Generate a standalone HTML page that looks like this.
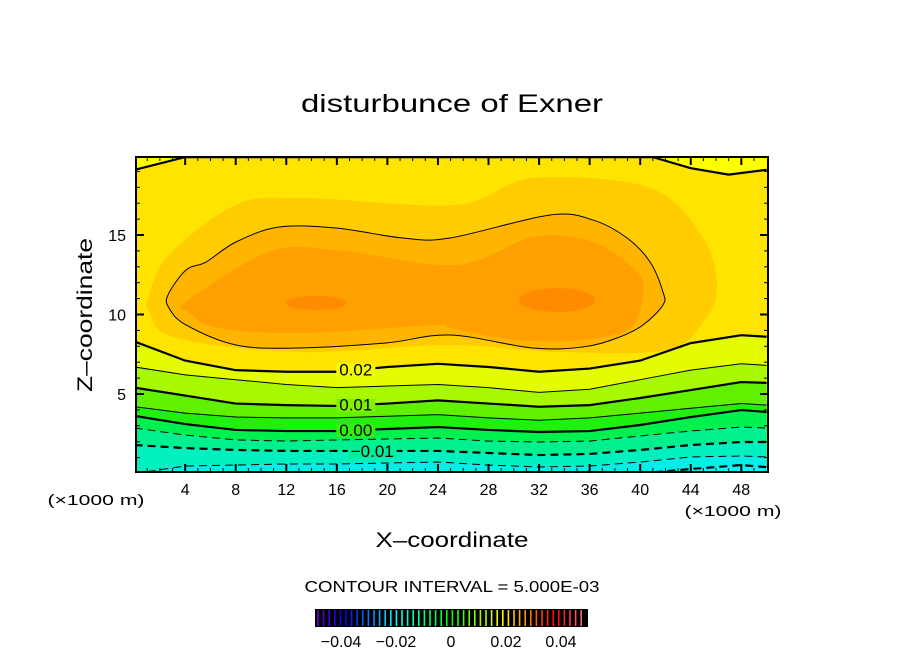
<!DOCTYPE html>
<html><head><meta charset="utf-8"><style>
html,body{margin:0;padding:0;background:#fff;}
svg{display:block;font-family:"Liberation Sans",sans-serif;}
</style></head><body>
<svg id="chart" width="904" height="654" viewBox="0 0 904 654">
<text x="452" y="112" text-anchor="middle" font-size="25" textLength="302" lengthAdjust="spacingAndGlyphs">disturbunce of Exner</text>
<defs><clipPath id="pc"><rect x="136" y="157" width="632" height="315"/></clipPath></defs>
<g id="plot" clip-path="url(#pc)"></g>
<rect x="136" y="157" width="632" height="315" fill="none" stroke="#000" stroke-width="2"/>
<g id="axes"></g>
<text x="96" y="505" text-anchor="middle" font-size="15" textLength="97" lengthAdjust="spacingAndGlyphs">(×1000 m)</text>
<text x="733" y="516" text-anchor="middle" font-size="15" textLength="97" lengthAdjust="spacingAndGlyphs">(×1000 m)</text>
<text x="452" y="547" text-anchor="middle" font-size="21" textLength="153" lengthAdjust="spacingAndGlyphs">X–coordinate</text>
<text x="0" y="0" transform="translate(92,315) rotate(-90)" text-anchor="middle" font-size="21" textLength="154" lengthAdjust="spacingAndGlyphs">Z–coordinate</text>
<text x="452" y="592" text-anchor="middle" font-size="16" textLength="295" lengthAdjust="spacingAndGlyphs">CONTOUR INTERVAL = 5.000E-03</text>
<g id="cbar"></g>
</svg>
<script>
// ---- data ----
const xs = [0,4,8,12,16,20,24,28,32,36,40,44,48,50];
const levels = [-0.02,-0.015,-0.01,-0.005,0.0,0.005,0.01,0.015,0.02];
const zLm020 = [0,0,0,0,0,0,0,0,0,0,0,0.28,0.53,0.4];
const zLm015 = [0,0.47,0.53,0.6,0.6,0.66,0.72,0.53,0.41,0.47,0.72,1.04,1.1,1.04];
const zLm010 = [1.79,1.6,1.48,1.42,1.42,1.42,1.42,1.29,1.16,1.23,1.48,1.79,1.98,1.98];
const zLm005 = [2.86,2.42,2.11,2.04,2.11,2.17,2.23,2.04,1.98,2.04,2.36,2.67,2.92,2.86];
const zL000 = [3.62,3.11,2.74,2.67,2.67,2.8,2.92,2.74,2.61,2.67,3.05,3.55,3.99,3.87];
const zL005 = [4.2,3.8,3.55,3.5,3.5,3.6,3.7,3.5,3.35,3.5,3.8,4.1,4.4,4.3];
const zL010 = [5.4,4.9,4.4,4.3,4.25,4.4,4.6,4.4,4.2,4.3,4.75,5.25,5.75,5.7];
const zL015 = [6.7,6.2,5.9,5.6,5.4,5.5,5.6,5.4,5.1,5.3,5.9,6.5,6.9,6.8];
const zL020 = [8.3,7.1,6.5,6.4,6.4,6.7,6.9,6.7,6.4,6.6,7.1,8.2,8.7,8.6];
const topX = [0,4,41,44,47,50];
const topZ = [19.1,19.9,19.9,19.2,18.8,19.1];
const loopX = [2.64,4.07,5.65,8.02,11.42,15.93,21.23,24.95,32.86,36.27,38.96,40.78,41.8,41.8,40.22,38.17,35.47,31.52,24.95,19.89,12.77,8.02,4.07,2.72];
const loopZ = [11.23,12.8,13.3,14.56,15.5,15.44,14.81,14.81,16.26,15.94,14.81,13.3,11.42,10.6,9.34,8.52,7.96,7.89,8.71,8.21,7.89,8.08,9.34,10.41];
const outerX = [1.14,2.72,8.02,13.32,25.43,31.52,40.78,44.97,46.08,44.97,42.12,33.65,24.95,13.09,3.28,1.14];
const outerZ = [11.23,13.74,16.89,17.33,16.89,18.58,17.96,14.81,11.67,9.53,7.77,7.64,8.08,7.64,8.52,10.16];
const innerX = [4.07,10.63,15.93,25.43,31.52,36.27,39.75,40.22,39.19,35.47,30.25,24.95,23.84,13.32,6.68,4.3];
const innerZ = [10.79,13.93,14.06,13.11,14.87,14.56,12.67,11.23,9.15,8.4,8.4,9.15,9.34,8.84,9.15,10.16];
const coreX = [14.36,33.42];
const coreZ = [10.72,10.91];
const coreRx = [2.4,3.0];
const coreRz = [0.44,0.75];
const xTicks = [4,8,12,16,20,24,28,32,36,40,44,48];
const zTicks = [5,10,15];
const cbTicks = [-0.04,-0.02,0,0.02,0.04];
const cbTickLabels = ["−0.04","−0.02","0","0.02","0.04"];

// ---- scales ----
const X = x => 134.6 + 12.64*x;
const Y = z => 473.5 - 15.9*z;
const NS='http://www.w3.org/2000/svg';
const plot=document.getElementById('plot'), axes=document.getElementById('axes'), cbar=document.getElementById('cbar');
function mk(tag, attrs, parent){const e=document.createElementNS(NS,tag);for(const k in attrs)e.setAttribute(k,attrs[k]);parent.appendChild(e);return e;}
function closedSmooth(px,pz){
  const n=px.length, P=px.map((x,i)=>[X(x),Y(pz[i])]);
  let d='M'+P[0][0]+','+P[0][1];
  for(let i=0;i<n;i++){
    const p0=P[(i-1+n)%n],p1=P[i],p2=P[(i+1)%n],p3=P[(i+2)%n];
    const c1=[p1[0]+(p2[0]-p0[0])/6,p1[1]+(p2[1]-p0[1])/6];
    const c2=[p2[0]-(p3[0]-p1[0])/6,p2[1]-(p3[1]-p1[1])/6];
    d+=' C'+c1+' '+c2+' '+p2;
  }
  return d+'Z';
}
function linePath(zArr){return xs.map((x,i)=>(i?'L':'M')+X(x)+','+Y(zArr[i])).join(' ');}

let e=mk('rect',{x:130,y:150,width:650,height:330,fill:'#ffe400'},plot);
 
e=mk('path',{d:'M'+X(0)+','+Y(21)+' '+topX.map((x,i)=>'L'+X(x)+','+Y(topZ[i])).join(' ')+' L'+X(50)+','+Y(21)+'Z',fill:'#ffff00'},plot);
 
e=mk('path',{d:closedSmooth(outerX,outerZ),fill:'#ffcc00'},plot);
 
e=mk('path',{d:closedSmooth(loopX,loopZ),fill:'#ffb400'},plot);
 
e=mk('path',{d:closedSmooth(innerX,innerZ),fill:'#ff9f00'},plot);
 
coreX.forEach((cx,i)=>{
  const c=mk('ellipse',{cx:X(cx),cy:Y(coreZ[i]),rx:coreRx[i]*12.64,ry:coreRz[i]*15.9,fill:'#ff8c00'},plot);
   
});

const lineZ=[zLm020,zLm015,zLm010,zLm005,zL000,zL005,zL010,zL015,zL020];
const bandColors=['#00f0e8','#00f0c0','#00f090','#00f050','#20f010','#60f000','#a8f800','#e4fc00'];
for(let k=lineZ.length-1;k>=0;k--){
  const z=lineZ[k];
  const d=linePath(z)+' L'+X(50)+','+Y(-1)+' L'+X(0)+','+Y(-1)+'Z';
  const b=mk('path',{d:d,fill:k>0?bandColors[k-1]:'#00fafa'},plot);
   
}
lineZ.forEach((z,k)=>{
  const lv=levels[k], thick=Math.abs(Math.round(lv*1000))%10===0;
  const a={d:linePath(z),fill:'none',stroke:'#000','stroke-width':thick?2.2:1};
  if(lv<0)a['stroke-dasharray']='8,5';
  const l=mk('path',a,plot);
   
});
let t=mk('path',{d:topX.map((x,i)=>(i?'L':'M')+X(x)+','+Y(topZ[i])).join(' '),fill:'none',stroke:'#000','stroke-width':2.2},plot);
 
t=mk('path',{d:closedSmooth(loopX,loopZ),fill:'none',stroke:'#000','stroke-width':1},plot);
 
const lab=[['0.02',17.5,zL020,'#f4fc00'],['0.01',17.5,zL010,'#80f200'],['0.00',17.5,zL000,'#30f010'],['−0.01',18.8,zLm010,'#00ee98']];
lab.forEach(([s,x,z])=>{
  const i=xs.indexOf(16), zz=(z[i]+z[i+1])/2;
  const tx=mk('text',{x:X(x),y:Y(zz)+6,'text-anchor':'middle','font-size':17},plot);
  tx.textContent=s;
   
});
plot.querySelectorAll('text').forEach((tx,j)=>{
  const bb=tx.getBBox();
  const g=mk('rect',{x:bb.x-3,y:bb.y+3,width:bb.width+6,height:bb.height-6,fill:lab[j][3]},plot);
  plot.insertBefore(g,tx);
});

for(let x=1;x<50;x++){
  const major=x%4===0, len=major?8:4, w=major?2:1;
  mk('line',{x1:X(x),x2:X(x),y1:472,y2:472-len,stroke:'#000','stroke-width':w},axes);
  mk('line',{x1:X(x),x2:X(x),y1:157,y2:157+len,stroke:'#000','stroke-width':w},axes);
}
for(let z=1;z<20;z++){
  const major=z%5===0, len=major?8:4, w=major?2:1;
  mk('line',{x1:136,x2:136+len,y1:Y(z),y2:Y(z),stroke:'#000','stroke-width':w},axes);
  mk('line',{x1:768,x2:768-len,y1:Y(z),y2:Y(z),stroke:'#000','stroke-width':w},axes);
}
xTicks.forEach(x=>{
  const tx=mk('text',{x:X(x),y:495,'text-anchor':'middle','font-size':16},axes);
  tx.textContent=x;
   
});
zTicks.forEach(z=>{
  const tx=mk('text',{x:126,y:Y(z)+6,'text-anchor':'end','font-size':16},axes);
  tx.textContent=z;
   
});

mk('rect',{x:315,y:609,width:273,height:18,fill:'#000'},cbar);
const nL=48;
for(let i=0;i<nL;i++){
  const f=i/(nL-1);
  let col;
  if(f<0.1) col=`hsl(${270-f*300},100%,${40+f*100}%)`;
  else col=`hsl(${Math.max(0,240-(f-0.1)/0.8*240)},100%,50%)`;
  if(f>0.9) col=`hsl(0,100%,${50+(f-0.9)*200}%)`;
  mk('line',{x1:318+i*5.6,x2:318+i*5.6,y1:610,y2:626,stroke:col,'stroke-width':1.6},cbar);
}
const cbX=v=>451+v*2750;
cbTicks.forEach((v,i)=>{
  const tx=mk('text',{x:cbX(v),y:647,'text-anchor':'middle','font-size':16},cbar);
  tx.textContent=cbTickLabels[i];
   
});
</script>
</body></html>
